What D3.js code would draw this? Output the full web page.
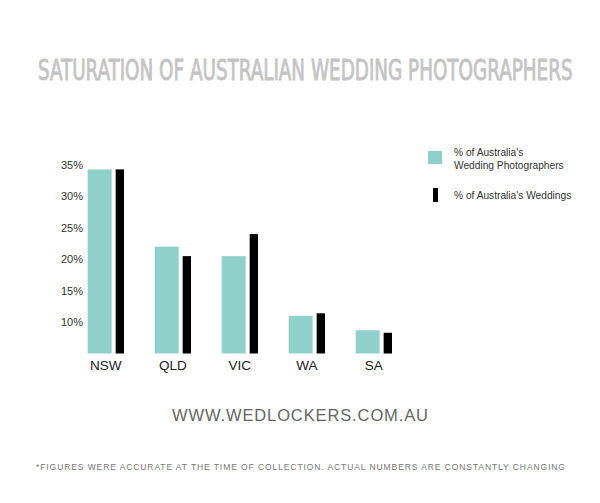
<!DOCTYPE html>
<html><head><meta charset="utf-8">
<script src="https://cdn.jsdelivr.net/npm/d3@7"></script>
<style>body{margin:0;background:#fff}svg{display:block}</style>
</head><body>
<script>
const categories = ["NSW","QLD","VIC","WA","SA"];
const photographers = [34.3, 22.0, 20.5, 11.0, 8.7];
const weddings = [34.3, 20.5, 24.0, 11.4, 8.3];
const tickValues = [10,15,20,25,30,35];
const seriesNames = ["% of Australia's\nWedding Photographers", "% of Australia's Weddings"];
const colors = ["#8fd0cb", "#000000"];

const W = 600, H = 503;
const svg = d3.select("body").append("svg").attr("width", W).attr("height", H);
svg.append("rect").attr("width", W).attr("height", H).attr("fill", "#fff");

// title: fit width naturally, then stretch vertically
const titleSize = 28.5;
const tg = svg.append("g");
const title = tg.append("text").attr("x", 0).attr("y", 0)
  .attr("font-family", "'Liberation Sans Narrow','DejaVu Sans Condensed',sans-serif")
  .attr("font-size", titleSize).attr("fill", "#c4c4c4")
  .attr("stroke", "#c4c4c4").attr("stroke-width", 0.6)
  .text("SATURATION OF AUSTRALIAN WEDDING PHOTOGRAPHERS");
const natural = title.node().getComputedTextLength();
const fitSize = titleSize * 535 / natural;
title.attr("font-size", fitSize);
tg.attr("transform", `translate(38,79.5) scale(1,${titleSize / fitSize})`);

const x = d3.scaleBand().domain(categories).range([87.7, 392]).paddingInner(0.458).paddingOuter(0);
const y = d3.scaleLinear().domain([5, 35]).range([353.5, 165]);
const bw = x.bandwidth();

const g = svg.append("g");
g.selectAll("rect.p").data(categories).join("rect").attr("class","p")
  .attr("x", d => x(d)).attr("width", bw*0.66)
  .attr("y", (d,i) => y(photographers[i])).attr("height", (d,i) => y(5) - y(photographers[i]))
  .attr("fill", colors[0]);
g.selectAll("rect.w").data(categories).join("rect").attr("class","w")
  .attr("x", d => x(d) + bw*0.77).attr("width", bw*0.23)
  .attr("y", (d,i) => y(weddings[i])).attr("height", (d,i) => y(5) - y(weddings[i]))
  .attr("fill", colors[1]);

const yAxis = svg.append("g").attr("transform", "translate(83,0)")
  .call(d3.axisLeft(y).tickValues(tickValues).tickSize(0).tickPadding(0).tickFormat(d => d + "%"));
yAxis.select(".domain").remove();
yAxis.selectAll("text").attr("font-family", "'Liberation Sans',Arial,sans-serif").attr("font-size", 11).attr("fill", "#333");

const xAxis = svg.append("g").attr("transform", "translate(0,356)")
  .call(d3.axisBottom(x).tickSize(0).tickPadding(4));
xAxis.select(".domain").remove();
xAxis.selectAll("text").attr("font-family", "'Liberation Sans',Arial,sans-serif").attr("font-size", 13.5).attr("fill", "#222");

// legend
const lg = svg.append("g");
lg.append("rect").attr("x", 428).attr("y", 151).attr("width", 14).attr("height", 13).attr("fill", colors[0]);
lg.append("rect").attr("x", 433).attr("y", 188).attr("width", 5).attr("height", 14).attr("fill", colors[1]);
const l1 = seriesNames[0].split("\n");
const ff = "'Liberation Sans',Arial,sans-serif";
lg.append("text").attr("x", 454).attr("y", 156).attr("font-family",ff).attr("font-size",10.2).attr("fill","#333").text(l1[0]);
lg.append("text").attr("x", 454).attr("y", 169).attr("font-family",ff).attr("font-size",10.2).attr("fill","#333").text(l1[1]);
lg.append("text").attr("x", 454).attr("y", 199).attr("font-family",ff).attr("font-size",10.2).attr("fill","#333").text(seriesNames[1]);

svg.append("text").attr("x", 172).attr("y", 421)
  .attr("font-family", ff).attr("font-size", 16.5).attr("fill", "#666")
  .attr("textLength", 256).attr("lengthAdjust", "spacing")
  .text("WWW.WEDLOCKERS.COM.AU");

svg.append("text").attr("x", 36).attr("y", 470)
  .attr("font-family", ff).attr("font-size", 8.5).attr("fill", "#777")
  .attr("textLength", 529).attr("lengthAdjust", "spacing")
  .text("*FIGURES WERE ACCURATE AT THE TIME OF COLLECTION.  ACTUAL NUMBERS ARE CONSTANTLY CHANGING");
</script>
</body></html>
